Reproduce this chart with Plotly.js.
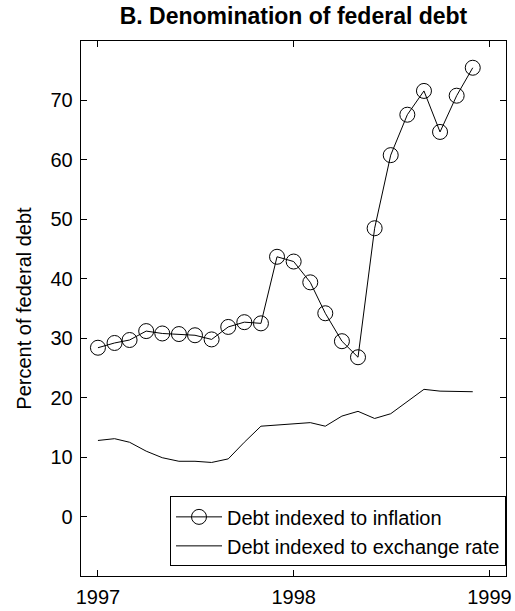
<!DOCTYPE html>
<html>
<head>
<meta charset="utf-8">
<script src="https://cdn.plot.ly/plotly-3.0.1.min.js"></script>
<style>html,body{margin:0;padding:0;background:#fff;}#chart{width:515px;height:611px;}</style>
</head>
<body>
<div id="chart"></div>
<script>
// Monthly observations, Jan 1997 - Dec 1998
const months = ['1997-01','1997-02','1997-03','1997-04','1997-05','1997-06','1997-07','1997-08','1997-09','1997-10','1997-11','1997-12',
                '1998-01','1998-02','1998-03','1998-04','1998-05','1998-06','1998-07','1998-08','1998-09','1998-10','1998-11','1998-12'];
const indexedToInflation = [28.4, 29.2, 29.7, 31.2, 30.8, 30.7, 30.5, 29.8, 31.9, 32.7, 32.5, 43.7,
                            42.9, 39.4, 34.2, 29.5, 26.8, 48.5, 60.8, 67.6, 71.6, 64.7, 70.8, 75.5];
const indexedToExchangeRate = [12.8, 13.1, 12.5, 11.0, 9.9, 9.3, 9.3, 9.1, 9.7, 12.5, 15.2, 15.4,
                               15.7, 15.8, 15.2, 16.9, 17.7, 16.5, 17.3, 19.4, 21.4, 21.1, 21.0, 21.0];
const seriesNames = ['Debt indexed to inflation', 'Debt indexed to exchange rate'];
const yTicks = [0, 10, 20, 30, 40, 50, 60, 70];
const xTicks = ['1997-01-01', '1998-01-01', '1999-01-01'];
const xTickLabels = ['1997', '1998', '1999'];

const FONT = 'Arial, "Liberation Sans", Helvetica, sans-serif';

const traces = [
  {
    x: months, y: indexedToInflation, name: seriesNames[0],
    type: 'scatter', mode: 'lines+markers',
    line: {color: '#000', width: 1},
    marker: {symbol: 'circle-open', size: 15, color: '#000', line: {color: '#000', width: 1}}
  },
  {
    x: months, y: indexedToExchangeRate, name: seriesNames[1],
    type: 'scatter', mode: 'lines',
    line: {color: '#000', width: 1}
  }
];

const layout = {
  width: 515, height: 611,
  margin: {l: 81, r: 9, t: 41, b: 35},
  paper_bgcolor: '#fff', plot_bgcolor: '#fff',
  font: {family: FONT, size: 20, color: '#000'},
  title: {text: '<b>B. Denomination of federal debt</b>', font: {family: FONT, size: 23, color: '#000'},
          x: 0.5, xref: 'paper', xanchor: 'center', y: 0.974, yref: 'container', yanchor: 'middle'},
  xaxis: {
    type: 'date', range: ['1996-11-30 10:00', '1999-02-01'],
    tickvals: xTicks, ticktext: xTickLabels,
    ticks: 'inside', ticklen: 6, tickwidth: 1, tickcolor: '#000',
    showline: true, linecolor: '#000', linewidth: 1.3, mirror: 'ticks',
    showgrid: false, zeroline: false, ticklabelstandoff: 3,
    tickfont: {family: FONT, size: 20, color: '#000'}
  },
  yaxis: {
    range: [-10, 80], tickvals: yTicks,
    ticks: 'inside', ticklen: 6, tickwidth: 1, tickcolor: '#000',
    showline: true, linecolor: '#000', linewidth: 1.3, mirror: 'ticks',
    showgrid: false, zeroline: false, ticklabelstandoff: 3,
    tickfont: {family: FONT, size: 20, color: '#000'},
    title: {text: 'Percent of federal debt', font: {family: FONT, size: 20, color: '#000'}, standoff: 13}
  },
  showlegend: true,
  legend: {
    x: 1, xanchor: 'right', y: 0.018, yanchor: 'bottom',
    bgcolor: '#fff', bordercolor: '#000', borderwidth: 1,
    font: {family: FONT, size: 20, color: '#000'},
    itemwidth: 46
  }
};

Plotly.newPlot('chart', traces, layout, {displayModeBar: false, staticPlot: true});
</script>
</body>
</html>
